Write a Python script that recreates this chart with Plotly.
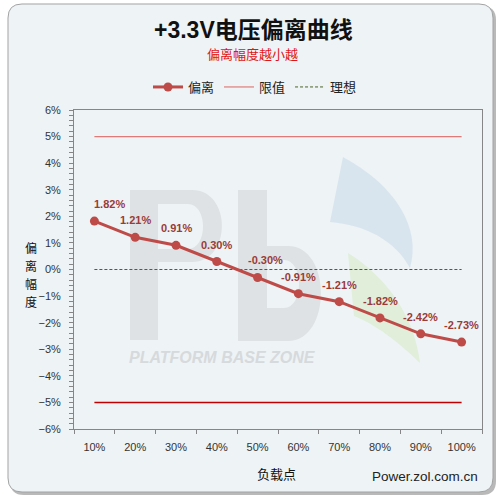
import plotly.graph_objects as go

# ---- data ----
loads = ["10%", "20%", "30%", "40%", "50%", "60%", "70%", "80%", "90%", "100%"]
deviation = [1.82, 1.21, 0.91, 0.30, -0.30, -0.91, -1.21, -1.82, -2.42, -2.73]
upper_limit = [5, 5, 5, 5, 5, 5, 5, 5, 5, 5]
lower_limit = [-5, -5, -5, -5, -5, -5, -5, -5, -5, -5]
ideal = [0, 0, 0, 0, 0, 0, 0, 0, 0, 0]

title_text = "+3.3V电压偏离曲线"
subtitle_text = "偏离幅度越小越"
x_title = "负载点"
y_title = "偏离幅度"
site_text = "Power.zol.com.cn"

# ---- layout geometry (pixels) ----
W, H = 500, 500
L, R, T, B = 74, 18, 110, 71
PW, PH = W - L - R, H - T - B

LATIN = "Liberation Sans, Noto Sans CJK SC, sans-serif"
CJK = "Noto Sans CJK SC, Liberation Sans, sans-serif"

RED = "#BE4B48"
LABEL_RED = "#9A3B38"
AXIS_GREY = "#868686"


def fx(px):
    return (px - L) / PW


def fy(py):
    return (T + PH - py) / PH


def path(cmds):
    """cmds: list of (letter, [px, py, px, py, ...]) in pixels -> paper path."""
    out = []
    for letter, pts in cmds:
        coords = []
        for i in range(0, len(pts), 2):
            coords.append(f"{fx(pts[i]):.5f},{fy(pts[i + 1]):.5f}")
        out.append(letter + " ".join(coords))
    return " ".join(out)


def rounded_rect(x0, y0, x1, y1, r):
    return path([
        ("M", [x0 + r, y0]), ("L", [x1 - r, y0]), ("Q", [x1, y0, x1, y0 + r]),
        ("L", [x1, y1 - r]), ("Q", [x1, y1, x1 - r, y1]), ("L", [x0 + r, y1]),
        ("Q", [x0, y1, x0, y1 - r]), ("L", [x0, y0 + r]), ("Q", [x0, y0, x0 + r, y0]),
    ]) + " Z"


fig = go.Figure()

fig.add_trace(go.Scatter(
    x=loads, y=ideal, mode="lines", name="理想", legendrank=3,
    line=dict(color="#4F6228", width=1, dash="3px,2px"),
))
fig.add_trace(go.Scatter(
    x=loads, y=upper_limit, mode="lines", name="限值", legendrank=2,
    line=dict(color="#E07A78", width=1.2),
))
fig.add_trace(go.Scatter(
    x=loads, y=lower_limit, mode="lines", name="限值", showlegend=False,
    line=dict(color="#C00000", width=1.5),
))
fig.add_trace(go.Scatter(
    x=loads, y=deviation, mode="lines+markers", name="偏离", legendrank=1,
    line=dict(color=RED, width=3),
    marker=dict(color=RED, size=9),
))

# data labels
label_nudge = {0: 15, 4: 8}
annotations = []
for i, (cat, v) in enumerate(zip(loads, deviation)):
    annotations.append(dict(
        x=cat, y=v, xref="x", yref="y", text=f"{v:.2f}%", showarrow=False,
        xshift=label_nudge.get(i, 0), yshift=17, yanchor="middle",
        font=dict(family=LATIN, size=11, color=LABEL_RED, weight="bold"),
    ))

# titles and other text
text_notes = [
    dict(x=fx(253), y=fy(30), text=f"<b>{title_text}</b>",
         font=dict(family=LATIN, size=23, color="#111111")),
    dict(x=fx(252), y=fy(53), text=subtitle_text,
         font=dict(family=CJK, size=13, color="#E01515")),
    dict(x=fx(276), y=fy(473), text=x_title,
         font=dict(family=CJK, size=13, color="#111111")),
    dict(x=fx(425), y=fy(477), text=site_text,
         font=dict(family=LATIN, size=13.5, color="#222222")),
    dict(x=fx(222), y=fy(357), text="<b><i>PLATFORM BASE ZONE</i></b>",
         font=dict(family=LATIN, size=16, color="#D6DADC")),
]
# vertical y-axis title, one character per line
for k, ch in enumerate(y_title):
    text_notes.append(dict(x=fx(31), y=fy(247 + 18 * k), text=ch, borderpad=0,
                           font=dict(family=CJK, size=12, color="#111111")))
for a in text_notes:
    a.update(xref="paper", yref="paper", showarrow=False,
             xanchor="center", yanchor="middle")
annotations += text_notes

# background frame and watermark
WM_GREY = "#DEE2E4"
shapes = [
    dict(type="path", path=rounded_rect(10, 6, 496, 495, 14),
         fillcolor="#B9B9B9", line=dict(width=0)),
    dict(type="path", path=rounded_rect(8, 4, 493, 492, 14),
         fillcolor="#EEF3F6", line=dict(color="#A3A3A3", width=1)),
    # P
    dict(type="path", fillrule="evenodd", fillcolor=WM_GREY, line=dict(width=0),
         path=path([("M", [130, 190]), ("L", [192, 190]),
                    ("C", [232, 190, 232, 262, 192, 262]), ("L", [158, 262]),
                    ("L", [158, 340]), ("L", [130, 340])]) + " Z " +
         path([("M", [158, 204]), ("L", [188, 204]),
               ("C", [208, 204, 208, 249, 188, 249]), ("L", [158, 249])]) + " Z"),
    # b
    dict(type="path", fillrule="evenodd", fillcolor=WM_GREY, line=dict(width=0),
         path=path([("M", [238, 190]), ("L", [267, 190]), ("L", [267, 246]),
                    ("L", [288, 246]), ("C", [332, 246, 332, 341, 288, 341]),
                    ("L", [238, 341])]) + " Z " +
         path([("M", [267, 260]), ("L", [284, 260]),
               ("C", [304, 260, 304, 308, 284, 308]), ("L", [267, 308])]) + " Z"),
    # blue crescent
    dict(type="path", fillcolor="#D9E5EE", line=dict(width=0),
         path=path([("M", [343, 157]), ("C", [395, 185, 422, 228, 410, 268]),
                    ("C", [395, 240, 365, 225, 330, 222])]) + " Z"),
    # green crescent
    dict(type="path", fillcolor="#E0EEDA", line=dict(width=0),
         path=path([("M", [348, 253]), ("C", [388, 278, 415, 318, 420, 363]),
                    ("C", [395, 338, 370, 322, 354, 316])]) + " Z"),
]
for s in shapes:
    s.update(xref="paper", yref="paper", layer="below")

fig.update_layout(
    width=W, height=H,
    margin=dict(l=L, r=R, t=T, b=B, pad=0),
    paper_bgcolor="white",
    plot_bgcolor="rgba(0,0,0,0)",
    font=dict(family=LATIN, size=11, color="#333333"),
    showlegend=True,
    legend=dict(
        orientation="h", x=fx(255), xanchor="center", y=fy(87), yanchor="middle",
        bgcolor="rgba(0,0,0,0)", font=dict(family=CJK, size=13, color="#222222"),
        itemwidth=30,
    ),
    annotations=annotations,
    shapes=shapes,
)

fig.update_xaxes(
    type="category", range=[-0.5, 9.5],
    showline=True, linecolor=AXIS_GREY, linewidth=1, mirror=True,
    ticks="outside", ticklen=4, tickcolor=AXIS_GREY, tickson="boundaries",
    ticklabelstandoff=8, showgrid=False, zeroline=False,
    tickfont=dict(family=LATIN, size=11, color="#333333"),
)
fig.update_yaxes(
    range=[-6, 6], tick0=0, dtick=1, ticksuffix="%",
    showline=True, linecolor=AXIS_GREY, linewidth=1, mirror=True,
    ticks="outside", ticklen=4, tickcolor=AXIS_GREY,
    minor=dict(ticks="outside", dtick=0.2, ticklen=4, tickcolor=AXIS_GREY),
    ticklabelstandoff=6, showgrid=False, zeroline=False,
    tickfont=dict(family=LATIN, size=11, color="#333333"),
)

# the page body has a default 8px margin; drop it so the figure sits at 0,0
fig.write_html("out.html", config={"displayModeBar": False},
               post_script="document.body.style.margin='0';")
